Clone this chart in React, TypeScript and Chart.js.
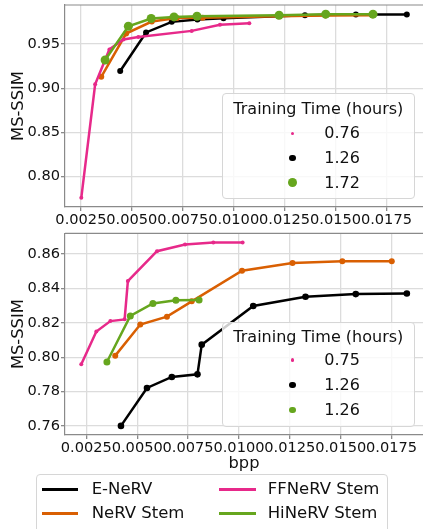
import React, { useEffect, useRef } from "react";
import { Chart, registerables } from "chart.js";
Chart.register(...registerables);

// ---------- data ----------
const xTicks = [0.0025, 0.005, 0.0075, 0.01, 0.0125, 0.015, 0.0175];
const topYTicks = [0.8, 0.85, 0.9, 0.95];
const botYTicks = [0.76, 0.78, 0.8, 0.82, 0.84, 0.86];

const seriesNames = ["E-NeRV", "NeRV Stem", "FFNeRV Stem", "HiNeRV Stem"];
const seriesColors = ["#000000", "#d95f02", "#e7298a", "#66a61e"];

// top panel
const topEBpp = [0.00443, 0.0057, 0.00696, 0.00822, 0.0095, 0.0135, 0.016, 0.0185];
const topESsim = [0.9195, 0.9632, 0.9752, 0.978, 0.9793, 0.9827, 0.9835, 0.9835];
const topNBpp = [0.0035, 0.00472, 0.00598, 0.00721, 0.00848, 0.0122, 0.0145, 0.0168];
const topNSsim = [0.913, 0.962, 0.9756, 0.9797, 0.98, 0.9815, 0.9825, 0.9828];
const topFBpp = [0.00252, 0.0032, 0.0039, 0.00459, 0.00532, 0.00794, 0.00933, 0.01077];
const topFSsim = [0.776, 0.9045, 0.944, 0.9553, 0.958, 0.965, 0.972, 0.9737];
const topHBpp = [0.00369, 0.00483, 0.00595, 0.00707, 0.0082, 0.01223, 0.01452, 0.01684];
const topHSsim = [0.932, 0.9703, 0.979, 0.9808, 0.9816, 0.9827, 0.9839, 0.9839];

// bottom panel
const botEBpp = [0.0042, 0.00548, 0.0067, 0.00796, 0.00817, 0.0107, 0.01327, 0.01574, 0.01825];
const botESsim = [0.76, 0.7821, 0.7885, 0.79, 0.8073, 0.8298, 0.8352, 0.8367, 0.8371];
const botNBpp = [0.00392, 0.00515, 0.00646, 0.00768, 0.01015, 0.01263, 0.01508, 0.01751];
const botNSsim = [0.8009, 0.819, 0.8236, 0.8325, 0.8503, 0.8548, 0.8558, 0.8559];
const botFBpp = [0.00225, 0.00299, 0.00368, 0.00438, 0.00454, 0.00597, 0.00735, 0.00874, 0.01018];
const botFSsim = [0.7959, 0.8149, 0.821, 0.822, 0.8443, 0.8617, 0.8656, 0.8668, 0.8668];
const botHBpp = [0.00351, 0.00466, 0.00577, 0.0069, 0.00804];
const botHSsim = [0.7972, 0.824, 0.8313, 0.8331, 0.8333];

const topTrainTimes = ["0.76", "1.26", "1.72"];
const botTrainTimes = ["0.75", "1.26", "1.26"];

const FONT = "'DejaVu Sans', sans-serif";
const CANVAS_W = 440;

const framePlugin = {
  id: "frame",
  afterDraw(chart: any) {
    const { ctx, chartArea } = chart;
    ctx.save();
    ctx.strokeStyle = "#8a8a8a";
    ctx.lineWidth = 1.2;
    ctx.beginPath();
    ctx.moveTo(chartArea.left, chartArea.top);
    ctx.lineTo(chartArea.right, chartArea.top);
    ctx.stroke();
    ctx.restore();
  },
};

function makeDatasets(pairs: number[][][], radii: number[]) {
  return pairs.map((p, i) => ({
    label: seriesNames[i],
    data: p[0].map((x, j) => ({ x, y: p[1][j] })),
    borderColor: seriesColors[i],
    backgroundColor: seriesColors[i],
    pointBackgroundColor: seriesColors[i],
    pointBorderWidth: 0,
    pointRadius: radii[i],
    pointHoverRadius: radii[i],
    borderWidth: 2.5,
    showLine: true,
    tension: 0,
    clip: false,
    order: 4 - i,
  }));
}

function makeConfig(opts: any) {
  const { datasets, xMin, xMax, yMin, yMax, yTicks, yDecimals, padTop, xHeight } = opts;
  return {
    type: "line",
    data: { datasets },
    plugins: [framePlugin],
    options: {
      responsive: false,
      animation: false,
      devicePixelRatio: 1,
      layout: { autoPadding: false, padding: { top: padTop, left: 0, right: 0, bottom: 0 } },
      plugins: { legend: { display: false }, tooltip: { enabled: false } },
      scales: {
        x: {
          type: "linear",
          min: xMin,
          max: xMax,
          afterBuildTicks: (s: any) => {
            s.ticks = xTicks.map((v) => ({ value: v }));
          },
          afterFit: (s: any) => {
            s.height = xHeight;
            s.paddingLeft = 0;
            s.paddingRight = 0;
          },
          ticks: {
            autoSkip: false,
            maxRotation: 0,
            minRotation: 0,
            padding: 0,
            color: "#111",
            font: { family: FONT, size: 14.6 },
            callback: (v: any) => Number(v).toFixed(4),
          },
          grid: { color: "#dcdcdc", lineWidth: 1.3, tickLength: 4, tickColor: "#8a8a8a" },
          border: { color: "#8a8a8a", width: 1.2 },
        },
        y: {
          type: "linear",
          min: yMin,
          max: yMax,
          afterBuildTicks: (s: any) => {
            s.ticks = yTicks.map((v: number) => ({ value: v }));
          },
          afterFit: (s: any) => {
            s.width = 65;
            s.paddingTop = 0;
            s.paddingBottom = 0;
          },
          ticks: {
            padding: 1,
            color: "#111",
            font: { family: FONT, size: 14.6 },
            callback: (v: any) => Number(v).toFixed(yDecimals),
          },
          grid: { color: "#dcdcdc", lineWidth: 1.3, tickLength: 4, tickColor: "#8a8a8a" },
          border: { color: "#8a8a8a", width: 1.2 },
          title: {
            display: true,
            text: "MS-SSIM",
            color: "#111",
            font: { family: FONT, size: 16.3 },
            padding: { top: 8.5, bottom: 0 },
          },
        },
      },
    },
  } as any;
}

function TrainLegend(props: any) {
  const { left, top, rows, titleY, labels, radii } = props;
  const colors = [seriesColors[2], seriesColors[0], seriesColors[3]];
  return (
    <div
      style={{
        position: "absolute",
        left,
        top,
        width: 193.3,
        height: 105.7,
        boxSizing: "border-box",
        background: "rgba(255,255,255,0.8)",
        border: "1px solid #d6d6d6",
        borderRadius: 4,
        fontFamily: FONT,
        color: "#111",
      }}
    >
      <div
        style={{
          position: "absolute",
          left: 0,
          width: "100%",
          top: titleY - 10,
          height: 20,
          lineHeight: "20px",
          fontSize: 16,
          textAlign: "center",
          whiteSpace: "nowrap",
        }}
      >
        Training Time (hours)
      </div>
      {labels.map((lab: string, i: number) => (
        <React.Fragment key={i}>
          <div
            style={{
              position: "absolute",
              left: 70 - radii[i],
              top: rows[i] - radii[i] - 1,
              width: radii[i] * 2,
              height: radii[i] * 2,
              borderRadius: "50%",
              background: colors[i],
            }}
          />
          <div
            style={{
              position: "absolute",
              left: 101.6,
              top: rows[i] - 10 - 1,
              height: 20,
              lineHeight: "20px",
              fontSize: 16,
              whiteSpace: "nowrap",
            }}
          >
            {lab}
          </div>
        </React.Fragment>
      ))}
    </div>
  );
}

function FigLegend() {
  const items = [
    { c: 0, lx: 5, tx: 55, y: 15 },
    { c: 1, lx: 5, tx: 55, y: 39 },
    { c: 2, lx: 182.6, tx: 231, y: 15 },
    { c: 3, lx: 182.6, tx: 231, y: 39 },
  ];
  return (
    <div
      style={{
        position: "absolute",
        left: 35.7,
        top: 474.3,
        width: 352.6,
        height: 80,
        boxSizing: "border-box",
        background: "rgba(255,255,255,0.8)",
        border: "1px solid #d6d6d6",
        borderRadius: 4,
        fontFamily: FONT,
        color: "#111",
      }}
    >
      {items.map((it, i) => (
        <React.Fragment key={i}>
          <div
            style={{
              position: "absolute",
              left: it.lx,
              top: it.y - 1.5 - 1,
              width: 36.6,
              height: 3,
              background: seriesColors[it.c],
            }}
          />
          <div
            style={{
              position: "absolute",
              left: it.tx,
              top: it.y - 10 - 1,
              height: 20,
              lineHeight: "20px",
              fontSize: 16.5,
              whiteSpace: "nowrap",
            }}
          >
            {seriesNames[it.c]}
          </div>
        </React.Fragment>
      ))}
    </div>
  );
}

export default function App() {
  const topRef = useRef<HTMLCanvasElement>(null);
  const botRef = useRef<HTMLCanvasElement>(null);

  useEffect(() => {
    const c1 = new Chart(
      topRef.current as HTMLCanvasElement,
      makeConfig({
        datasets: makeDatasets(
          [
            [topEBpp, topESsim],
            [topNBpp, topNSsim],
            [topFBpp, topFSsim],
            [topHBpp, topHSsim],
          ],
          [3, 3, 2, 4.5]
        ),
        xMin: 0.00172,
        xMax: 0.02013,
        yMin: 0.7656,
        yMax: 0.9943,
        yTicks: topYTicks,
        yDecimals: 2,
        padTop: 5,
        xHeight: 23,
      })
    );
    const c2 = new Chart(
      botRef.current as HTMLCanvasElement,
      makeConfig({
        datasets: makeDatasets(
          [
            [botEBpp, botESsim],
            [botNBpp, botNSsim],
            [botFBpp, botFSsim],
            [botHBpp, botHSsim],
          ],
          [3.3, 3, 2, 3.5]
        ),
        xMin: 0.00145,
        xMax: 0.01988,
        yMin: 0.7547,
        yMax: 0.8721,
        yTicks: botYTicks,
        yDecimals: 2,
        padTop: 13.3,
        xHeight: 40,
      })
    );
    return () => {
      c1.destroy();
      c2.destroy();
    };
  }, []);

  return (
    <div
      style={{
        position: "fixed",
        left: 0,
        top: 0,
        width: 423,
        height: 529,
        overflow: "hidden",
        background: "#fff",
      }}
    >
      <canvas
        ref={topRef}
        width={CANVAS_W}
        height={230}
        style={{ position: "absolute", left: 0, top: 0, width: CANVAS_W, height: 230 }}
      />
      <canvas
        ref={botRef}
        width={CANVAS_W}
        height={255}
        style={{ position: "absolute", left: 0, top: 220, width: CANVAS_W, height: 255 }}
      />
      <div
        style={{
          position: "absolute",
          left: 194,
          width: 100,
          top: 453,
          height: 20,
          lineHeight: "20px",
          textAlign: "center",
          fontFamily: FONT,
          fontSize: 16.3,
          color: "#111",
        }}
      >
        bpp
      </div>
      <TrainLegend
        left={221.7}
        top={93.3}
        titleY={15}
        rows={[40, 64.7, 89.4]}
        labels={topTrainTimes}
        radii={[1.6, 3.2, 4.4]}
      />
      <TrainLegend
        left={221.7}
        top={321.7}
        titleY={14.3}
        rows={[38.3, 63.3, 88.3]}
        labels={botTrainTimes}
        radii={[1.6, 3.2, 3.2]}
      />
      <FigLegend />
    </div>
  );
}
